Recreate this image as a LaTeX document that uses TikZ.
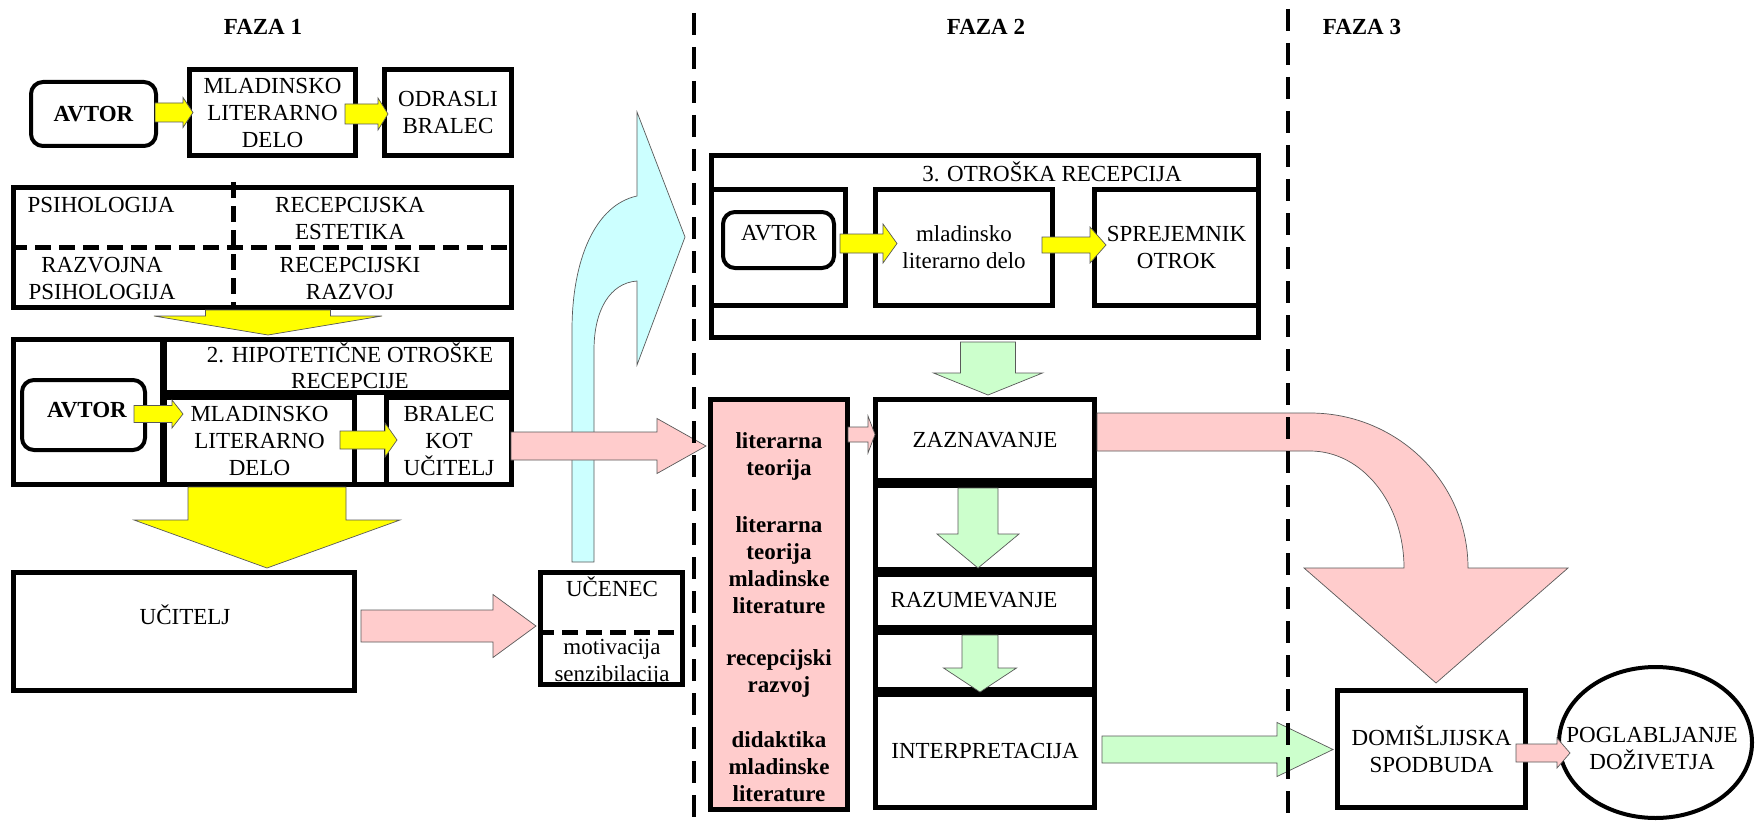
\documentclass[tikz,border=0pt]{standalone}
\usepackage{fontspec}
\setmainfont{Liberation Serif}
\usetikzlibrary{shapes.geometric}
\definecolor{pk}{RGB}{255,204,204}
\definecolor{gr}{RGB}{204,255,204}
\definecolor{bl}{RGB}{204,255,255}
\definecolor{yl}{RGB}{255,255,0}
\newcommand{\fs}{\fontsize{23}{27}\selectfont}
% horizontal block arrow: style, x start, x tip, y centre, shaft half, head half, head base x
\newcommand{\harr}[7]{\draw[#1] (#2,{#4-#5}) -- (#7,{#4-#5}) -- (#7,{#4-#6}) -- (#3,#4) -- (#7,{#4+#6}) -- (#7,{#4+#5}) -- (#2,{#4+#5}) -- cycle;}
% vertical block arrow: style, x centre, y start, y tip, shaft half, head half, head base y
\newcommand{\varr}[7]{\draw[#1] ({#2-#5},#3) -- ({#2-#5},#7) -- ({#2-#6},#7) -- (#2,#4) -- ({#2+#6},#7) -- ({#2+#5},#7) -- ({#2+#5},#3) -- cycle;}
\begin{document}
\begin{tikzpicture}[x=1pt,y=-1pt,
  every node/.style={font=\fs, inner sep=0pt, align=center},
  box/.style={draw, line width=5pt, rectangle},
  rbox/.style={draw, line width=4pt, rounded corners=12pt},
  bt/.style={font=\fs\bfseries},
  ar/.style={draw=black!65, line width=0.7pt, line join=miter},
  yarr/.style={ar, fill=yl},
  parr/.style={ar, fill=pk},
  garr/.style={ar, fill=gr},
  barr/.style={ar, fill=bl},
  faza/.style={line width=4pt, dash pattern=on 22pt off 12pt},
  sepl/.style={line width=5pt, dash pattern=on 16pt off 8pt}]
\fill[white] (0,0) rectangle (1755,821);
\useasboundingbox (0,0) rectangle (1755,821);

% titles
\node[bt] (f1) at (263,27) {FAZA 1};
\node[bt] (f2) at (986,27) {FAZA 2};
\node[bt] (f3) at (1362,27) {FAZA 3};

% ---------- FAZA 1 top row
\node[rbox, minimum width=125, minimum height=64, bt] (av1) at (93.5,114) {AVTOR};
\node[box, minimum width=166, minimum height=86] (ml1) at (272.5,112.5) {MLADINSKO\\LITERARNO\\DELO};
\node[box, minimum width=127, minimum height=86] (od1) at (448,112.5) {ODRASLI\\BRALEC};
\harr{yarr}{155}{193}{112.5}{9.5}{15}{183}
\harr{yarr}{345}{388}{114}{10}{16}{378}

% psychology box
\node[box, minimum width=498, minimum height=120] (ps) at (262.5,247.5) {};
\draw[sepl] (ps.west |- 0,247) -- (ps.east |- 0,247);
\draw[sepl] (233,182) -- (233,308);
\node (ps1) at (101,205) {PSIHOLOGIJA};
\node (ps2) at (350,218.5) {RECEPCIJSKA\\ESTETIKA};
\node (ps3) at (102,278.5) {RAZVOJNA\\PSIHOLOGIJA};
\node (ps4) at (350,278.5) {RECEPCIJSKI\\RAZVOJ};
\varr{yarr}{268}{310}{335}{62.5}{114}{316}

% hypothetical reception box
\node[box, minimum width=498, minimum height=145] (hy) at (262.5,412) {};
\draw[line width=5pt] (162,337) -- (162,487);
\node[box, minimum width=347, minimum height=53] (hyh) at (338,366) {};
\node[font=\fontsize{23}{26}\selectfont] (hyt) at (350,365.5) {2. HIPOTETIČNE OTROŠKE\\RECEPCIJE};
\node[box, minimum width=190, minimum height=87] (ml2) at (259.5,441) {MLADINSKO\\LITERARNO\\DELO};
\node[box, minimum width=125, minimum height=87] (br2) at (449,441) {BRALEC\\KOT\\UČITELJ};
\node[rbox, minimum width=123, minimum height=70] (av2) at (83.5,415) {};
\node[bt] (av2t) at (87,410) {AVTOR};
\harr{yarr}{134}{183}{414}{8.5}{14}{172}
\harr{yarr}{340}{397}{440}{9}{17}{385}
\varr{yarr}{267}{487}{568}{79}{133}{520}

% teacher / pupil
\node[box, minimum width=341, minimum height=118] (uc) at (184,631.5) {};
\node (uct) at (185,615) {UČITELJ};
\node[box, minimum width=142, minimum height=112] (ue) at (611.5,628.5) {};
\draw[sepl] (ue.west |- 0,632) -- (ue.east |- 0,632);
\node (uet) at (612,587) {UČENEC};
\node (uem) at (612,662.5) {motivacija\\senzibilacija};
\harr{parr}{361}{536}{626}{16}{31.5}{493}

% blue curved arrow
\draw[barr] (572,562) -- (572,330) .. controls (572,260) and (595,205) .. (637,196) -- (637,112) -- (685,237) -- (637,365) -- (637,281) .. controls (610,283) and (594,310) .. (594,350) -- (594,562) -- cycle;
\harr{parr}{511}{706}{446}{14}{27.5}{657}

% ---------- FAZA 2
\node[box, minimum width=547, minimum height=182] (ot) at (985,246.5) {};
\node (ott) at (1052,172) {3. OTROŠKA RECEPCIJA};
\node[box, minimum width=134, minimum height=116] (c1) at (778.5,247.5) {};
\node[box, minimum width=177, minimum height=116] (c2) at (964,247.5) {mladinsko\\literarno delo};
\node[box, minimum width=164, minimum height=116] (c3) at (1176.5,247.5) {SPREJEMNIK\\OTROK};
\node[rbox, minimum width=111, minimum height=56] (av3) at (778.5,240) {};
\node (av3t) at (779,233) {AVTOR};
\harr{yarr}{840}{897}{243.5}{9.5}{19.5}{883}
\harr{yarr}{1042}{1106}{245}{8}{18}{1090}
\varr{garr}{988}{342}{395}{27.5}{54.5}{373}

% theory column
\node[box, fill=pk, minimum width=137, minimum height=410] (th) at (779,604.5) {};
\node[bt] (th1) at (779,456.5) {literarna\\teorija};
\node[bt] (th2) at (779,565.5) {literarna\\teorija\\mladinske\\literature};
\node[bt] (th3) at (779,673) {recepcijski\\razvoj};
\node[bt] (th4) at (779,767) {didaktika\\mladinske\\literature};

% process column
\node[box, minimum width=219, minimum height=81] (za) at (985,440) {ZAZNAVANJE};
\node[box, minimum width=219, minimum height=84] (e1) at (985,527.5) {};
\node[box, minimum width=219, minimum height=53] (ra) at (985,601) {};
\node (rat) at (974,600) {RAZUMEVANJE};
\node[box, minimum width=219, minimum height=57] (e2) at (985,661) {};
\node[box, minimum width=219, minimum height=113] (in) at (985,751) {INTERPRETACIJA};
\harr{parr}{848}{875}{434.5}{7.5}{18.5}{868}
\varr{garr}{978}{488}{568}{20}{41}{534}
\varr{garr}{980}{635}{692}{18}{36.5}{668}

% big curved pink arrow
\draw[parr] (1097,413) -- (1310,413) .. controls (1397,413) and (1468,482) .. (1468,568) -- (1568,568) -- (1436,683) -- (1304,568) -- (1404,568) .. controls (1404,503) and (1362,451) .. (1310,451) -- (1097,451) -- cycle;

% ---------- FAZA 3
\node[box, minimum width=188, minimum height=117] (do) at (1431.5,749) {DOMIŠLJIJSKA\\SPODBUDA};
\node[draw, ellipse, line width=4pt, minimum width=193, minimum height=151] (po) at (1655.5,742.5) {};
\node (pot) at (1652,748.5) {POGLABLJANJE\\DOŽIVETJA};
\harr{garr}{1102}{1333}{749.5}{13.5}{27}{1277}
\harr{parr}{1516}{1570}{753}{9}{15}{1557}

% phase separators
\coordinate (s2a) at (694,13);
\coordinate (s2b) at (694,821);
\coordinate (s3a) at (1288,9);
\coordinate (s3b) at (1288,821);
\draw[faza] (s2a) -- (s2b);
\draw[faza] (s3a) -- (s3b);
\end{tikzpicture}
\end{document}
